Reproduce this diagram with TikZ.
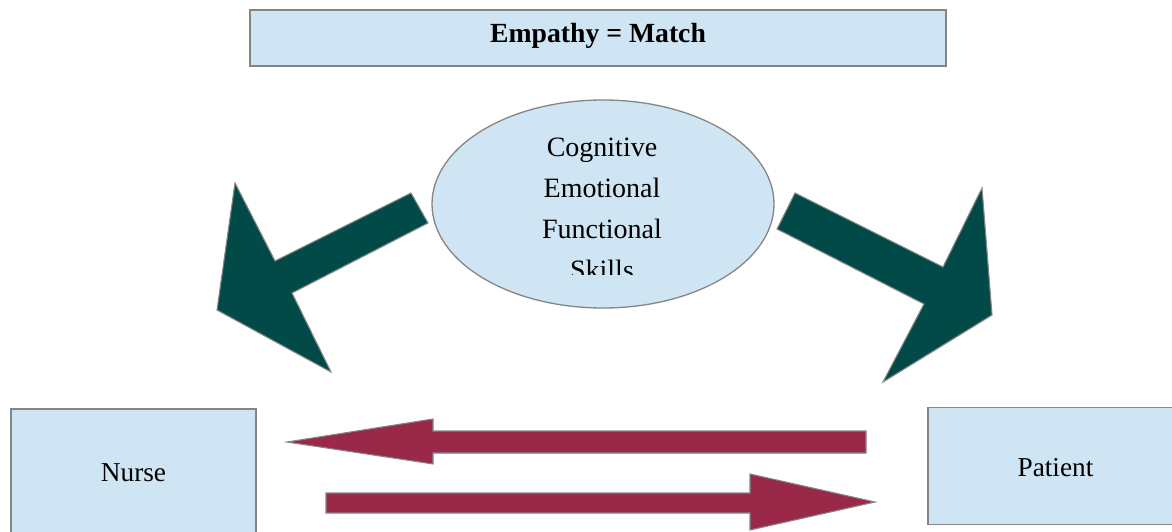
\documentclass[tikz,border=0pt]{standalone}
\usepackage{fontspec}
\setmainfont{Liberation Serif}
\usetikzlibrary{shapes.geometric}
\definecolor{boxblue}{HTML}{CFE5F3}
\definecolor{edgegray}{HTML}{858585}
\definecolor{arrowgreen}{HTML}{024A47}
\definecolor{arrowred}{HTML}{9A2849}
\tikzset{
  labelbox/.style={draw=edgegray,fill=boxblue,line width=1.3pt,inner sep=0pt,anchor=base,font=\fontsize{27.3}{32}\selectfont},
  bigarrow/.style={draw=edgegray,line width=1.1pt,line join=miter},
  skillword/.style={anchor=base,inner sep=0pt,font=\fontsize{28}{32}\selectfont}
}
\begin{document}
\begin{tikzpicture}[x=1pt,y=-1pt]
    \clip (0,0) rectangle (1172,532);
    \node[labelbox,minimum width=696pt,text height=32.3pt,text depth=23.7pt,font=\bfseries\fontsize{27.7}{32}\selectfont] (match) at (598,42.3) {Empathy = Match};
    \draw[bigarrow,fill=arrowgreen] (411,193)--(428,223)--(292,293)--(331,372)--(217,310)--(235,183)--(275,261)--cycle;
    \draw[bigarrow,fill=arrowgreen] (795,193)--(777,229)--(924,304)--(883,382)--(992,315)--(982,188)--(943,267)--cycle;
    \node[ellipse,draw=edgegray,fill=boxblue,line width=1.3pt,minimum width=342pt,minimum height=208pt,inner sep=0pt] (skills) at (603,204) {};
    \begin{scope}
    \clip (431,100) rectangle (775,274);
    \foreach \word [count=\i] in {Cognitive,Emotional,Functional,Skills}
    {
    \node[skillword] (word\i) at (602,{156.7+41*(\i-1)}) {\word};
    }
    \end{scope}
    \node[labelbox,minimum width=245pt,text height=72.7pt,text depth=54.3pt] (nurse) at (133.5,481.7) {Nurse};
    \node[labelbox,minimum width=255pt,text height=68.5pt,text depth=48.5pt] (patient) at (1055.5,476) {Patient};
    \draw[bigarrow,fill=arrowred] (287,442)--(433,419)--(433,431)--(866,431)--(866,453)--(433,453)--(433,464)--cycle;
    \draw[bigarrow,fill=arrowred] (326,493)--(750,493)--(750,474)--(875,502)--(750,530)--(750,513)--(326,513)--cycle;
\end{tikzpicture}
\end{document}
